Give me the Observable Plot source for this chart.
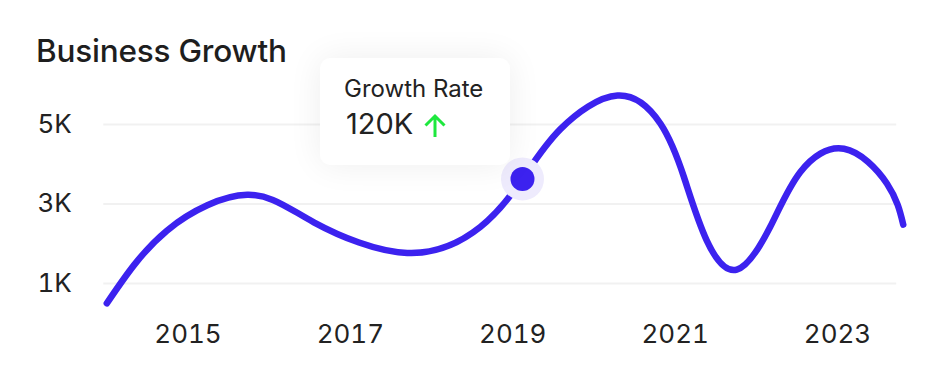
<!DOCTYPE html>
<html>
<head>
<meta charset="utf-8">
<script src="https://cdn.jsdelivr.net/npm/d3@7"></script>
<script src="https://cdn.jsdelivr.net/npm/@observablehq/plot@0.6"></script>
<style>
  html, body { margin: 0; padding: 0; background: #fff; }
  body { width: 946px; height: 382px; position: relative; overflow: hidden; font-family: Inter, "Noto Sans", sans-serif; color: #1e1e1e; }
  #title { position: absolute; left: 36px; top: 35px; font-size: 31.5px; line-height: 32px; font-weight: 500; letter-spacing: -0.2px; white-space: nowrap; }
  #chart { position: absolute; left: 0; top: 70px; }
  #card { position: absolute; left: 320px; top: 58px; width: 190px; height: 107px; background: #fff; border-radius: 10px; box-shadow: 0 0 34px rgba(0,0,0,0.07); }
  #card .lbl { position: absolute; left: 24px; top: 16px; font-size: 24px; line-height: 30px; font-weight: 400; white-space: nowrap; color: #222; }
  #card .val { position: absolute; left: 26px; top: 48px; font-size: 29px; line-height: 36px; font-weight: 400; white-space: nowrap; color: #222; }
  #card svg { position: absolute; left: 102px; top: 55px; }
</style>
</head>
<body>
<div id="title">Business Growth</div>
<div id="chart"></div>
<div id="card">
  <div class="lbl">Growth Rate</div>
  <div class="val">120K</div>
  <svg width="26" height="26" viewBox="0 0 26 26"><path d="M13 24 V3 M3.5 12.5 L13 3 L22.5 12.5" fill="none" stroke="#1ee83e" stroke-width="3" stroke-linecap="butt" stroke-linejoin="miter"/></svg>
</div>
<script>
// Curve readings: year (fractional) and value in thousands
const years  = [2014.0, 2014.74, 2015.73, 2016.55, 2017.70, 2018.60, 2019.12, 2019.59, 2020.29,
                2020.82, 2021.11, 2021.39, 2021.76, 2022.17, 2022.54, 2023.08, 2023.61, 2023.81];
const values = [0.50, 2.33, 3.23, 2.54, 1.77, 2.42, 3.63, 4.89, 5.73,
                5.02, 3.67, 2.08, 1.35, 2.42, 3.80, 4.39, 3.51, 2.48];
const xTicks = [2015, 2017, 2019, 2021, 2023];
const yTicks = [1, 3, 5];
const yTickLabels = ["1K", "3K", "5K"];
const highlight = [{year: 2019.12, value: 3.63}];

const data = years.map((y, i) => ({year: y, value: values[i]}));
const lineColor = "#3c22ef";

const chart = Plot.plot({
  width: 946,
  height: 312,
  marginLeft: 106.3,
  marginRight: 27.8,
  marginTop: 14.25,
  marginBottom: 59.25,
  style: {fontFamily: "Inter, 'Noto Sans', sans-serif", color: "#222", background: "transparent", overflow: "visible"},
  x: {domain: [2014, 2024]},
  y: {domain: [0, 6]},
  marks: [
    Plot.gridY(yTicks, {stroke: "#f1f1f1", strokeOpacity: 1, strokeWidth: 2, insetLeft: -3, insetRight: 22}),
    Plot.axisY(yTicks, {tickSize: 0, tickPadding: 0, dx: -69.3, textAnchor: "start", fontSize: 26, label: null,
      tickFormat: d => yTickLabels[yTicks.indexOf(d)]}),
    Plot.axisX(xTicks, {tickSize: 0, tickPadding: 1, fontSize: 26, label: null, tickFormat: d => String(d)}),
    Plot.line(data, {x: "year", y: "value", curve: "natural", stroke: lineColor, strokeWidth: 6.5, strokeLinecap: "round", strokeLinejoin: "round"}),
    Plot.dot(highlight, {x: "year", y: "value", r: 21.5, fill: "#eeebfd", stroke: "none"}),
    Plot.dot(highlight, {x: "year", y: "value", r: 12, fill: lineColor, stroke: "none"})
  ]
});
document.getElementById("chart").appendChild(chart);
</script>
</body>
</html>
